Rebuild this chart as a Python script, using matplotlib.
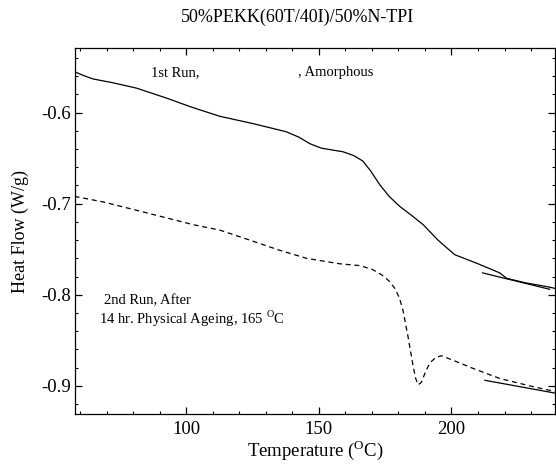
import matplotlib
matplotlib.use('Agg')
import matplotlib.pyplot as plt
from matplotlib.ticker import MultipleLocator

plt.rcParams['font.family'] = ['Liberation Serif', 'DejaVu Serif']
plt.rcParams['mathtext.fontset'] = 'custom'
plt.rcParams['mathtext.rm'] = 'Liberation Serif'

# 1st run (solid)
t1 = [57.8, 61.0, 64.8, 72.0, 81.1, 92.5, 102.0, 112.6, 125.1, 137.7, 142.5,
      146.5, 150.9, 159.1, 163.0, 166.5, 169.5, 172.9, 176.5, 180.5, 185.0,
      189.3, 194.9, 201.2, 210.0, 218.2, 220.8, 228.0, 235.8, 239]
hf1 = [-0.555, -0.559, -0.563, -0.567, -0.573, -0.584, -0.594, -0.604, -0.612,
       -0.621, -0.627, -0.634, -0.639, -0.643, -0.647, -0.653, -0.664, -0.679,
       -0.692, -0.703, -0.713, -0.723, -0.740, -0.756, -0.766, -0.776, -0.782,
       -0.787, -0.791, -0.793]

# 2nd run after ageing (dashed)
t2 = [57.8, 68.5, 83.6, 102.5, 112.6, 123.9, 135.0, 145.3, 157.8, 165.4, 170.0,
      173.6, 176.5, 178.6, 180.3, 181.7, 183.6, 185.5, 186.5, 187.4, 188.7,
      190.0, 191.8, 194.0, 196.2, 200.6, 208.2, 218.2, 230.8, 237.1, 239]
hf2 = [-0.692, -0.698, -0.709, -0.723, -0.729, -0.740, -0.751, -0.760, -0.766,
       -0.768, -0.772, -0.778, -0.785, -0.793, -0.803, -0.817, -0.846, -0.878,
       -0.892, -0.899, -0.896, -0.886, -0.875, -0.869, -0.867, -0.872, -0.881,
       -0.892, -0.901, -0.905, -0.906]

# extrapolated baselines
base1_t = [211.7, 237.0]
base1_hf = [-0.776, -0.794]
base2_t = [212.6, 239.0]
base2_hf = [-0.894, -0.908]

fig = plt.figure(figsize=(5.56, 4.68), dpi=100)
ax = fig.add_axes([0.135, 0.1154, 0.863, 0.782])

ax.plot(t1, hf1, color='black', lw=0.9)
ax.plot(t2, hf2, color='black', lw=0.9, linestyle=(0, (4, 3)))
ax.plot(base1_t, base1_hf, color='black', lw=0.9)
ax.plot(base2_t, base2_hf, color='black', lw=0.9)

ax.set_xlim(58, 239)
ax.set_ylim(-0.931, -0.529)
ax.xaxis.set_major_locator(MultipleLocator(50))
ax.xaxis.set_minor_locator(MultipleLocator(10))
ax.yaxis.set_major_locator(MultipleLocator(0.1))
ax.yaxis.set_minor_locator(MultipleLocator(0.02))
ax.set_yticks([-0.6, -0.7, -0.8, -0.9])
ax.set_yticklabels(['-0.6', '-0.7', '-0.8', '-0.9'])
ax.tick_params(which='both', direction='in', top=True, right=True, labelsize=13.5)
ax.tick_params(which='major', length=5, width=0.9)
ax.tick_params(which='minor', length=2.5, width=0.8)
ax.tick_params(axis='x', pad=5)
ax.tick_params(axis='y', pad=3)
for s in ax.spines.values():
    s.set_linewidth(0.9)

ax.set_xlabel(r'Temperature ($^{\mathrm{O}}$C)', fontsize=13.5, labelpad=0)
ax.set_ylabel('Heat Flow (W/g)', fontsize=13, labelpad=9)
fig.text(0.535, 0.964, '50%PEKK(60T/40I)/50%N-TPI', ha='center', va='center', fontsize=13)

ax.text(86.5, -0.556, '1st Run,', fontsize=10.5, va='center')
ax.text(142, -0.556, ', Amorphous', fontsize=10.5, va='center')
ax.text(69, -0.806, '2nd Run, After', fontsize=10.5, va='center')
ax.text(67, -0.827, r'14 hr. Physical Ageing, 165 $^{\mathrm{O}}$C', fontsize=10.5, va='center')

fig.savefig('out.png', dpi=100)
